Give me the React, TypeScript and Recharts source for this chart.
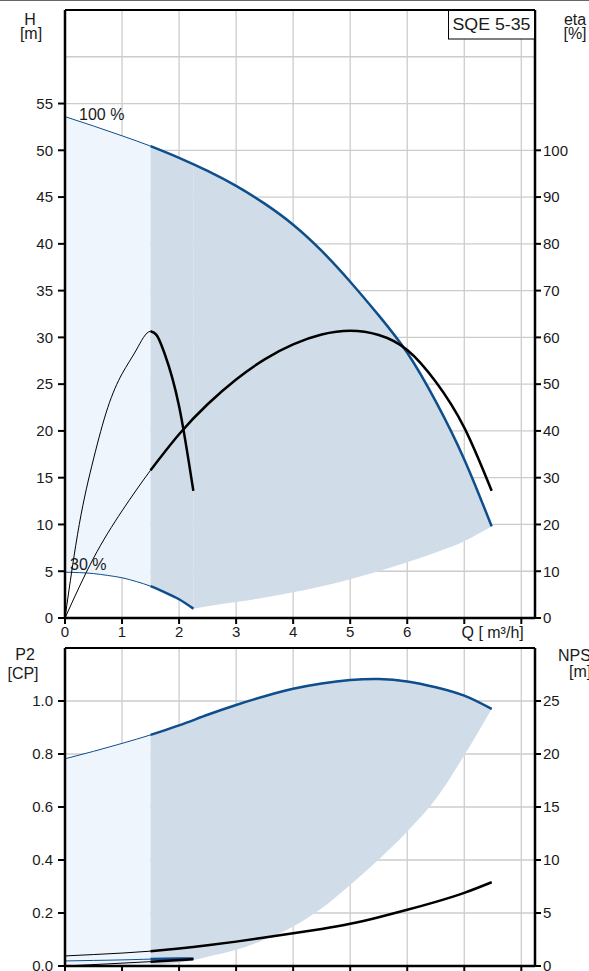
import React from 'react'
import { ComposedChart, Line, Area, XAxis, YAxis, CartesianGrid, ReferenceLine } from 'recharts'

const BLUE = '#0e4e8c'
const LIGHT = '#eef5fd'
const SHADE = '#d0dce8'
const GRID = '#cccccc'
const FONT = '"Liberation Sans", Arial, sans-serif'

// axis ticks
const Q_TICKS = [0, 1, 2, 3, 4, 5, 6, 7, 8]
const H_TICKS = [0, 5, 10, 15, 20, 25, 30, 35, 40, 45, 50, 55]
const ETA_TICKS = [0, 10, 20, 30, 40, 50, 60, 70, 80, 90, 100]
const P2_TICKS = [0, 0.2, 0.4, 0.6, 0.8, 1.0]
const NPSH_TICKS = [0, 5, 10, 15, 20, 25]

// head at 100 % speed
const Q_FULL = [0, 0.5, 1, 1.5, 2, 2.5, 3, 3.5, 4, 4.5, 5, 5.5, 6, 6.5, 7, 7.48]
const H100 = [53.6, 52.6, 51.55, 50.45, 49.2, 47.8, 46.2, 44.3, 42.05, 39.25, 35.95, 32.35, 28.35, 23.15, 16.95, 9.8]

// head at 30 % speed
const Q_SHORT = [0, 0.25, 0.5, 0.75, 1, 1.25, 1.5, 1.75, 2, 2.25]
const H30 = [4.9, 4.85, 4.75, 4.55, 4.3, 3.9, 3.4, 2.75, 2.0, 1.0]

// shaded field: light part, part above the 30 % curve, part above the lower limit
const Q_LIGHT = [0, 0.5, 1, 1.5]
const H_LIGHT_TOP = [53.6, 52.6, 51.55, 50.45]
const H_LIGHT_LOW = [4.9, 4.75, 4.3, 3.4]
const Q_MID = [1.5, 1.75, 2, 2.25]
const H_MID_TOP = [50.45, 49.85, 49.2, 48.5]
const H_MID_LOW = [3.4, 2.75, 2.0, 1.0]
const Q_FIELD = [2.25, 2.5, 3, 3.5, 4, 4.5, 5, 5.5, 6, 6.5, 7, 7.48]
const H_FIELD_TOP = [48.5, 47.8, 46.2, 44.3, 42.05, 39.25, 35.95, 32.35, 28.35, 23.15, 16.95, 9.8]
const H_FIELD_LOW = [1.0, 1.25, 1.7, 2.2, 2.75, 3.4, 4.15, 5.0, 5.95, 7.0, 8.2, 9.8]

// efficiency
const ETA100 = [0, 12.8, 22.9, 31.6, 39.3, 45.7, 51.0, 55.3, 58.5, 60.6, 61.4, 60.5, 57.3, 50.5, 40.7, 27.2]
const ETA30 = [0, 20, 34, 45, 52.2, 57.3, 61.3, 56.4, 45.3, 27.2]
const Q_ETA30_THICK = [1.5, 1.6, 1.75, 2, 2.25]
const ETA30_THICK = [61.3, 60.6, 56.4, 45.3, 27.2]

// power P2
const P2_100 = [0.782, 0.81, 0.84, 0.872, 0.908, 0.948, 0.985, 1.018, 1.046, 1.066, 1.079, 1.083, 1.074, 1.052, 1.02, 0.97]
const Q_P2_FIELD = [1.5, 2, 2.5, 3, 3.5, 4, 4.5, 5, 5.5, 6, 6.5, 7, 7.48]
const P2_FIELD_LOW = [0, 0.012, 0.035, 0.061, 0.1, 0.149, 0.218, 0.306, 0.402, 0.508, 0.63, 0.795, 0.97]
const Q_P2_30 = [0, 0.5, 1, 1.5, 2, 2.25]
const P2_30 = [0.019, 0.021, 0.023, 0.026, 0.028, 0.028]

// NPSH
const NPSH100 = [0.95, 1.08, 1.22, 1.4, 1.65, 1.95, 2.3, 2.68, 3.08, 3.5, 3.98, 4.6, 5.3, 6.05, 6.9, 7.9]
const Q_NPSH30 = [0, 0.75, 1.5, 2.25]
const NPSH30 = [0, 0.2, 0.41, 0.63]

const rows = (qs: number[], vs: number[], lo?: number[]) =>
  qs.map((q, i) => ({ q, v: vs[i], lo: lo ? lo[i] : 0 }))

// part of a curve from Q = 1.5 on (drawn thick)
const from15 = (qs: number[], vs: number[]) =>
  rows(qs, vs).filter((r) => r.q >= 1.5)

const range = (d: any) => [d.lo, d.v]

const tickStyle = { fontSize: 15, fill: '#1a1a1a' }
const axisLine = { stroke: '#000', strokeWidth: 2.5 }
const tickLine = { stroke: '#000', strokeWidth: 2 }

function curve(key: string, axis: string, data: any[], color: string, width: number, type: any = 'natural') {
  return (
    <Line
      key={key}
      yAxisId={axis}
      data={data}
      dataKey="v"
      type={type}
      stroke={color}
      strokeWidth={width}
      dot={false}
      activeDot={false}
      isAnimationActive={false}
    />
  )
}

function field(key: string, axis: string, data: any[], color: string) {
  return (
    <Area
      key={key}
      yAxisId={axis}
      data={data}
      dataKey={range}
      type="monotone"
      stroke="none"
      fill={color}
      fillOpacity={1}
      activeDot={false}
      isAnimationActive={false}
    />
  )
}

export default function App() {
  return (
    <div
      style={{
        position: 'absolute', left: 0, top: 0, width: 589, height: 971,
        overflow: 'hidden', background: '#fff', fontFamily: FONT,
      }}
    >
      <div style={{ position: 'absolute', left: 0, top: 0, width: 589, height: 1, background: '#666' }} />

      <div style={{ position: 'absolute', left: 0, top: 0 }}>
        <ComposedChart width={589} height={648} margin={{ top: 10, right: 0, bottom: 0, left: 0 }}>
          <XAxis
            dataKey="q" type="number" domain={[0, 8.24]} ticks={Q_TICKS}
            tickFormatter={(v: number) => (v >= 7 ? '' : String(v))}
            axisLine={axisLine} tickLine={tickLine} tickSize={6} tick={tickStyle} height={30}
          />
          <YAxis
            yAxisId="h" domain={[0, 65]} ticks={H_TICKS} width={65} tickSize={7} tickMargin={5}
            axisLine={axisLine} tickLine={tickLine} tick={tickStyle}
          />
          <YAxis
            yAxisId="eta" orientation="right" domain={[0, 130]} ticks={ETA_TICKS} width={54}
            tickSize={6} tickMargin={2} axisLine={axisLine} tickLine={tickLine} tick={tickStyle}
          />
          {field('light', 'h', rows(Q_LIGHT, H_LIGHT_TOP, H_LIGHT_LOW), LIGHT)}
          {field('mid', 'h', rows(Q_MID, H_MID_TOP, H_MID_LOW), SHADE)}
          {field('main', 'h', rows(Q_FIELD, H_FIELD_TOP, H_FIELD_LOW), SHADE)}
          <CartesianGrid yAxisId="h" stroke={GRID} strokeWidth={1.3} />
          <ReferenceLine yAxisId="h" y={60} stroke={GRID} strokeWidth={1.3} />
          <ReferenceLine yAxisId="h" y={65} stroke="#000" strokeWidth={2} />
          {curve('h100', 'h', rows(Q_FULL, H100), BLUE, 1)}
          {curve('h100t', 'h', from15(Q_FULL, H100), BLUE, 2.5)}
          {curve('h30', 'h', rows(Q_SHORT, H30), BLUE, 1)}
          {curve('h30t', 'h', from15(Q_SHORT, H30), BLUE, 2.5)}
          {curve('e100', 'eta', rows(Q_FULL, ETA100), '#000', 1)}
          {curve('e100t', 'eta', from15(Q_FULL, ETA100), '#000', 2.5)}
          {curve('e30', 'eta', rows(Q_SHORT, ETA30), '#000', 1)}
          {curve('e30t', 'eta', rows(Q_ETA30_THICK, ETA30_THICK), '#000', 2.5, 'monotone')}
        </ComposedChart>
      </div>

      <div style={{ position: 'absolute', left: 0, top: 640 }}>
        <ComposedChart width={589} height={356} margin={{ top: 8, right: 0, bottom: 0, left: 0 }}>
          <XAxis
            dataKey="q" type="number" domain={[0, 8.24]} ticks={Q_TICKS} tickFormatter={() => ''}
            axisLine={axisLine} tickLine={tickLine} tickSize={6} tick={tickStyle} height={30}
          />
          <YAxis
            yAxisId="p" domain={[0, 1.2]} ticks={P2_TICKS} width={65} tickSize={7} tickMargin={5}
            tickFormatter={(v: number) => v.toFixed(1)}
            axisLine={axisLine} tickLine={tickLine} tick={tickStyle}
          />
          <YAxis
            yAxisId="n" orientation="right" domain={[0, 30]} ticks={NPSH_TICKS} width={54}
            tickSize={6} tickMargin={2} axisLine={axisLine} tickLine={tickLine} tick={tickStyle}
          />
          {field('plight', 'p', rows(Q_FULL, P2_100).filter((r) => r.q <= 1.5), LIGHT)}
          {field('pshade', 'p', rows(Q_P2_FIELD, P2_100.slice(3), P2_FIELD_LOW), SHADE)}
          <CartesianGrid yAxisId="p" stroke={GRID} strokeWidth={1.3} />
          <ReferenceLine yAxisId="p" y={1.2} stroke="#000" strokeWidth={2} />
          {curve('p100', 'p', rows(Q_FULL, P2_100), BLUE, 1)}
          {curve('p100t', 'p', from15(Q_FULL, P2_100), BLUE, 2.5)}
          {curve('p30', 'p', rows(Q_P2_30, P2_30), BLUE, 1)}
          {curve('p30t', 'p', from15(Q_P2_30, P2_30), BLUE, 2.5)}
          {curve('n100', 'n', rows(Q_FULL, NPSH100), '#000', 1)}
          {curve('n100t', 'n', from15(Q_FULL, NPSH100), '#000', 2.5)}
          {curve('n30', 'n', rows(Q_NPSH30, NPSH30), '#000', 1)}
          {curve('n30t', 'n', from15(Q_NPSH30, NPSH30), '#000', 2.5)}
        </ComposedChart>
      </div>

      <svg width={589} height={971} style={{ position: 'absolute', left: 0, top: 0, pointerEvents: 'none' }}>
        <g fontFamily={FONT} fontSize={16} fill="#1a1a1a">
          <text x={30} y={25} textAnchor="middle">H</text>
          <text x={31} y={39} textAnchor="middle">[m]</text>
          <text x={575} y={25} textAnchor="middle">eta</text>
          <text x={575} y={39} textAnchor="middle">[%]</text>
          <text x={79} y={120}>100 %</text>
          <text x={70} y={570}>30 %</text>
          <text x={461.5} y={638}>Q [ m³/h]</text>
          <text x={25} y={660} textAnchor="middle">P2</text>
          <text x={23} y={679} textAnchor="middle">[CP]</text>
          <text x={558} y={661}>NPSH</text>
          <text x={569} y={677}>[m]</text>
        </g>
        <rect x={448.5} y={10.5} width={86} height={28.5} fill="#fff" stroke="#000" strokeWidth={1} />
        <text x={491.5} y={29.5} textAnchor="middle" fontFamily={FONT} fontSize={16} fill="#1a1a1a"
          textLength={78} lengthAdjust="spacingAndGlyphs">SQE 5-35</text>
      </svg>
    </div>
  )
}
